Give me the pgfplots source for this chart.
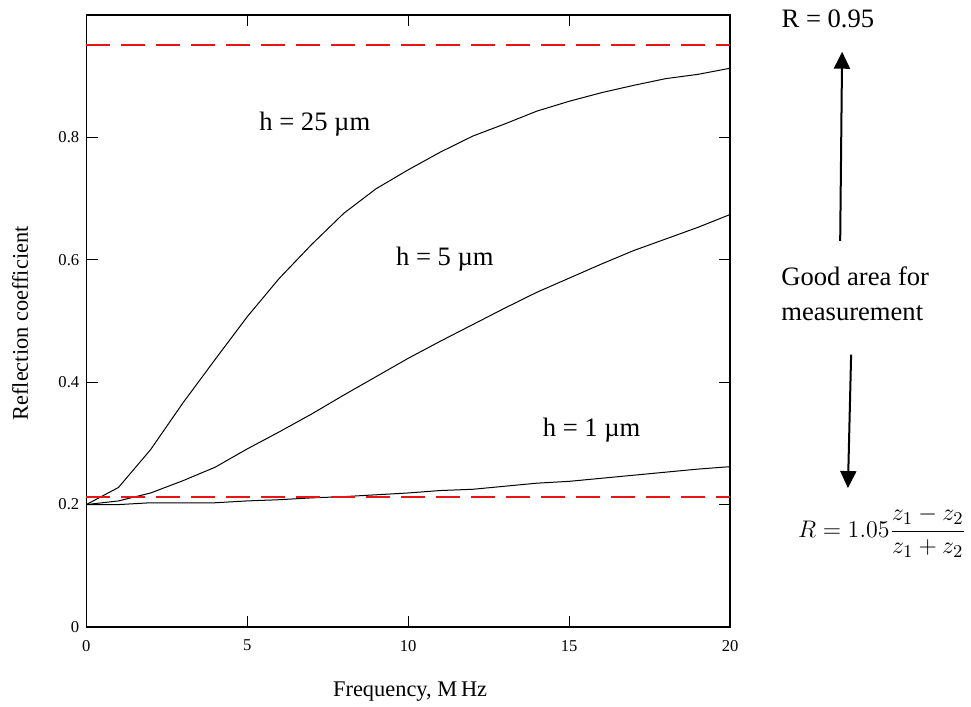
\documentclass[border=0pt]{standalone}
\usepackage{fontspec}
\setmainfont{Liberation Serif}
\usepackage{pgfplots}
\usepackage{pgfplotstable}
\pgfplotsset{compat=1.18}
\usetikzlibrary{arrows.meta}
\definecolor{refred}{RGB}{235,20,20}

\pgfplotstableread{
x h25 h5 h1
0 0.200 0.200 0.200
1 0.228 0.206 0.200
2 0.290 0.219 0.203
3 0.366 0.239 0.203
4 0.437 0.261 0.203
5 0.507 0.291 0.206
6 0.570 0.319 0.208
7 0.625 0.348 0.211
8 0.676 0.379 0.213
9 0.716 0.409 0.216
10 0.747 0.439 0.219
11 0.776 0.467 0.223
12 0.802 0.494 0.225
13 0.822 0.521 0.230
14 0.843 0.547 0.235
15 0.859 0.570 0.238
16 0.873 0.593 0.243
17 0.885 0.615 0.248
18 0.896 0.634 0.253
19 0.903 0.653 0.258
20 0.913 0.674 0.262
}\curves

\begin{document}
\begin{tikzpicture}
\begin{axis}[
  name=ax,
  scale only axis,
  width=321.9pt, height=306pt,
  xmin=0, xmax=20, ymin=0, ymax=1,
  xtick={0,5,10,15,20},
  ytick={0,0.2,0.4,0.6,0.8},
  tick align=inside,
  major tick length=5.7pt,
  minor tick num=0,
  axis line style={line width=0.7pt},
  every tick/.style={black, line width=0.6pt},
  tick label style={font=\fontsize{8.3}{10}\selectfont},
  xticklabel style={yshift=-3pt},
  /pgf/number format/assume math mode=true,
  clip=false,
  xlabel={Frequency, M\,Hz},
  ylabel={Reflection coefficient},
  label style={font=\fontsize{11.2}{13}\selectfont},
  xlabel style={at={(axis description cs:0.503,-0.106)}, anchor=center},
  ylabel style={at={(axis description cs:-0.103,0.496)}, anchor=center, rotate=0},
]
\addplot[black, line width=0.5pt] table[x=x, y=h25] {\curves};
\addplot[black, line width=0.5pt] table[x=x, y=h5] {\curves};
\addplot[black, line width=0.5pt] table[x=x, y=h1] {\curves};
\addplot[draw=refred, line width=0.9pt, dash pattern=on 12pt off 5.5pt] coordinates {(0,0.951) (20,0.951)};
\addplot[draw=refred, line width=0.8pt, dash pattern=on 12pt off 5.5pt] coordinates {(0,0.212) (20,0.212)};

\node[font=\fontsize{13.3}{16}\selectfont] at (axis cs:7.10,0.821) {h = 25 µm};
\node[font=\fontsize{13.3}{16}\selectfont] at (axis cs:11.14,0.601) {h = 5 µm};
\node[font=\fontsize{13.3}{16}\selectfont] at (axis cs:15.70,0.322) {h = 1 µm};
\node[font=\fontsize{13.3}{16}\selectfont] at (axis cs:23.04,0.993) {R = 0.95};
\draw[line width=1pt, -{Triangle[length=8.5pt,width=8pt]}] (axis cs:23.42,0.631) -- (axis cs:23.48,0.940);
\node[font=\fontsize{13.3}{17.5}\selectfont, align=left, anchor=west, inner sep=0pt] at (axis cs:21.58,0.544) {Good area for\\measurement};
\draw[line width=1pt, -{Triangle[length=8.5pt,width=8pt]}] (axis cs:23.76,0.445) -- (axis cs:23.66,0.227);
\node[font=\fontsize{12.2}{14}\selectfont, inner sep=0pt] at (axis cs:24.72,0.155) {$\displaystyle R = 1.05\frac{z_1 - z_2}{z_1 + z_2}$};
\end{axis}
\pgfresetboundingbox
\path[use as bounding box] ([shift={(-43.15pt,-40pt)}]ax.south west) rectangle ([shift={(442.35pt,313.5pt)}]ax.south west);
\end{tikzpicture}
\end{document}
